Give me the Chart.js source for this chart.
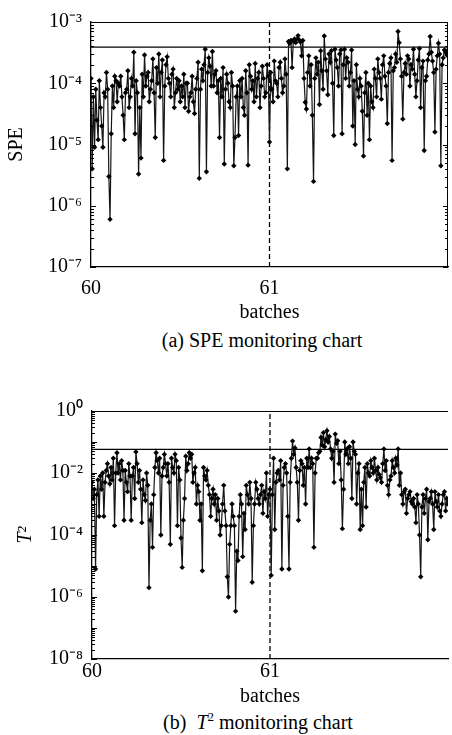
<!DOCTYPE html>
<html>
<head>
<meta charset="utf-8">
<script src="https://cdn.jsdelivr.net/npm/chart.js@4.4.0/dist/chart.umd.min.js"></script>
<style>
  html, body { margin: 0; padding: 0; background: #fff; overflow: hidden; }
  #page { position: relative; width: 452px; height: 735px; font-family: "Liberation Serif", "Times New Roman", serif; color: #000; }
  canvas { position: absolute; left: 0; }
  .caption { position: absolute; font-size: 20px; line-height: 24px; text-align: center; white-space: nowrap; }
  .caption sup { font-size: 13px; line-height: 0; vertical-align: 8px; }
</style>
</head>
<body>
<div id="page">
  <canvas id="spe" width="452" height="325" style="top:0"></canvas>
  <div class="caption" style="top:328px; left:62px; width:400px">(a) SPE monitoring chart</div>
  <canvas id="t2" width="452" height="329" style="top:380px"></canvas>
  <div class="caption" style="top:710px; left:58px; width:400px">(b)&nbsp; <i>T</i><sup>2</sup> monitoring chart</div>
</div>
<script>
// samples are spread evenly over each batch
const SAMPLES_PER_BATCH = 150;
const FIRST_BATCH = 60;
const LAST_BATCH = 62;
const BATCH_TICKS = [60, 61];
const FAULT_BATCH = 61;

const SPE_TICKS = [1e-7, 1e-6, 1e-5, 1e-4, 1e-3];
const T2_TICKS = [1e-8, 1e-6, 1e-4, 1e-2, 1];
const SPE_LIMIT = 3.9e-4;
const T2_LIMIT = 0.058;

const speValues = [
  1.2e-4, 4e-6, 6e-5, 9e-6, 8e-5, 2.5e-5, 1.2e-5, 1.1e-4, 4e-5, 2e-5, 9e-6, 7e-5, 6e-5, 1.5e-4, 8e-5,
  3e-6, 6e-7, 1.5e-5, 9e-5, 4e-5, 1.3e-4, 1.1e-4, 5e-5, 1e-4, 9e-5, 1.3e-4, 6e-5, 3e-5, 1.2e-5, 7e-5,
  8e-5, 1.6e-4, 4e-5, 6e-5, 1.2e-4, 9e-5, 3.2e-4, 1.5e-5, 1.1e-4, 7e-5, 3.3e-6, 4e-5, 6e-6, 1.4e-4, 6e-5,
  2.9e-4, 9e-5, 1.3e-4, 1.5e-4, 5e-5, 8e-5, 1.1e-4, 2.5e-4, 7e-5, 1.3e-5, 1.8e-4, 1e-4, 3e-4, 6e-5, 1.5e-4,
  2.4e-4, 5.5e-6, 9e-5, 2e-4, 2.7e-4, 1.2e-4, 1e-4, 6e-5, 1.4e-4, 1.7e-4, 4e-5, 7e-5, 1.2e-4, 8e-5, 1.1e-4,
  5e-5, 9e-5, 6e-5, 1.4e-4, 4e-5, 1e-4, 1e-4, 3.5e-5, 6e-5, 7e-5, 1.3e-4, 5e-5, 3.2e-5, 8e-5, 1.2e-4,
  2.2e-4, 2.8e-6, 8e-5, 1.7e-4, 1.1e-4, 2e-4, 3.6e-4, 3.6e-6, 1.5e-4, 2.6e-4, 1.9e-4, 9e-5, 3.3e-4, 9e-5, 1.4e-4,
  1.6e-4, 7e-5, 1.1e-4, 1.3e-5, 1.2e-4, 6e-5, 1.8e-4, 4.8e-6, 8e-5, 1.4e-4, 1e-4, 5e-5, 4e-5, 1.5e-4, 9e-5,
  4.5e-6, 1.3e-5, 6e-5, 9e-5, 1.4e-5, 1.1e-4, 6e-5, 1.2e-4, 4e-5, 3e-5, 1.6e-4, 7e-5, 4.6e-6, 2e-4, 1.3e-4,
  8e-5, 1.1e-4, 5e-5, 2.1e-4, 6e-5, 1.2e-4, 1.5e-4, 4e-5, 9e-5, 1.9e-4, 1.2e-4, 6e-5, 7e-5, 2e-4, 1.3e-4,
  1.1e-5, 1.5e-4, 8e-5, 5e-5, 2.3e-4, 1.1e-4, 1e-4, 6e-5, 1.8e-4, 2.2e-4, 1.2e-4, 7e-5, 9e-5, 2.5e-4, 1.4e-4,
  4e-6, 4.8e-4, 4.5e-4, 5e-4, 1.8e-4, 4.9e-4, 5.3e-4, 4.6e-4, 5.2e-4, 6e-4, 5.1e-4, 4.7e-4, 2.8e-4, 5e-4, 1.2e-4,
  4.9e-5, 3.8e-5, 1.5e-4, 2.8e-4, 9e-5, 2e-4, 3e-5, 2.5e-6, 1.2e-4, 2.6e-4, 1.4e-4, 2.2e-4, 4.5e-5, 3.4e-4, 1.6e-4,
  8e-5, 5.9e-4, 2.5e-4, 1.6e-4, 6.5e-5, 3e-4, 2.2e-4, 3.4e-4, 1e-4, 1.4e-5, 3.6e-4, 2.4e-4, 1.8e-4, 9e-5, 3e-4,
  3.5e-4, 1.5e-5, 2e-4, 3.6e-4, 1.2e-4, 2.6e-4, 2.2e-4, 9e-5, 1.5e-4, 3.5e-4, 2e-5, 1.1e-4, 1e-5, 2e-4, 8e-5,
  6e-5, 1.2e-4, 9e-5, 3.5e-5, 6.5e-6, 7e-5, 1.5e-4, 3e-5, 1e-4, 1.2e-5, 9e-5, 5e-5, 4e-5, 1.7e-4, 1.2e-4,
  6e-5, 2.5e-4, 1.5e-4, 1.2e-4, 5.5e-5, 2e-4, 2.8e-4, 1.3e-4, 9e-5, 2.2e-5, 1.5e-4, 2.1e-4, 2.6e-4, 5.5e-6, 1.6e-4,
  1.8e-4, 3e-4, 2.2e-4, 7e-4, 4.6e-4, 2.5e-4, 1.3e-4, 2.6e-5, 1.5e-4, 2.1e-4, 1.4e-4, 2.8e-4, 2.5e-4, 9e-5, 2e-4,
  1.7e-4, 3.6e-4, 1.4e-4, 6e-5, 1.1e-4, 2.4e-4, 3.7e-4, 4e-5, 1.8e-4, 2.3e-4, 8e-6, 1.1e-4, 1.3e-4, 2.4e-4, 3e-4,
  5.8e-4, 3.2e-4, 2.3e-4, 1.5e-4, 1.6e-5, 1.7e-4, 2.8e-4, 4.5e-4, 3e-4, 4.5e-6, 2e-4, 2.6e-4, 3.5e-4, 3.2e-4, 2.9e-4,
  3.5e-4
];

const t2Values = [
  5e-3, 1.5e-3, 3e-3, 8e-6, 2e-3, 6e-3, 4e-4, 8e-3, 3e-3, 1e-2, 4e-4, 5e-3, 1.2e-2, 2e-2, 8e-3,
  4.5e-3, 1.5e-2, 6e-3, 3e-2, 2e-4, 1e-2, 4.5e-2, 1e-2, 2e-2, 6e-3, 2.5e-2, 1.2e-2, 3e-4, 1.2e-2, 5e-3,
  2.5e-3, 2e-2, 8e-3, 3e-4, 8e-3, 1.5e-2, 1.5e-3, 4.8e-2, 2e-2, 5e-3, 1.2e-2, 3e-3, 2.5e-4, 6e-3, 2e-3,
  1.3e-3, 1e-2, 4e-3, 2e-6, 3e-4, 1e-3, 4e-5, 2e-3, 1.5e-2, 4.5e-2, 2.5e-2, 1e-2, 3e-2, 1e-4, 8e-3,
  1.5e-2, 4e-2, 2e-2, 8e-3, 2e-2, 5e-3, 5e-5, 3e-2, 1.5e-2, 1e-2, 4e-2, 2.5e-2, 2e-4, 1.5e-2, 6e-3,
  8e-5, 9e-6, 3e-4, 1.5e-3, 3.5e-2, 1.2e-2, 2e-2, 4.5e-2, 3e-2, 4e-2, 5e-3, 1e-2, 1.5e-2, 1e-3, 4e-3,
  2.5e-3, 3e-4, 1e-3, 7e-6, 1.5e-2, 8e-3, 6e-3, 1.2e-2, 4e-3, 2e-3, 4e-4, 1.5e-3, 3e-3, 1e-3, 2e-3,
  3e-4, 1.5e-3, 6e-4, 1e-4, 2e-4, 1e-3, 4e-3, 6e-4, 2e-4, 4.5e-6, 1e-6, 5e-5, 2e-4, 1e-3, 4e-4,
  2e-4, 3.5e-7, 3e-5, 1.5e-5, 4e-4, 2e-3, 1e-3, 2e-5, 5e-4, 1.5e-4, 4e-3, 2e-3, 1e-3, 5e-3, 1.5e-3,
  3e-6, 2e-4, 1e-3, 5e-3, 3e-3, 1.5e-3, 1e-3, 2e-3, 4e-3, 5e-4, 2.5e-3, 1.5e-3, 1e-2, 4e-4, 2e-3,
  3e-3, 5e-6, 2e-3, 3e-2, 1.5e-4, 5e-3, 1e-2, 1.2e-2, 6e-3, 2.5e-2, 8e-6, 4e-3, 1.5e-2, 2e-2, 1e-2,
  4e-4, 8e-6, 5e-3, 3e-2, 0.107, 0.04, 0.064, 1.5e-2, 5e-3, 3e-4, 1.2e-2, 2.5e-2, 2e-2, 4e-3, 1.5e-2,
  1e-3, 3e-2, 1.5e-2, 0.06, 1.5e-2, 3e-2, 2e-2, 4e-5, 1e-2, 3e-2, 3e-2, 4.5e-2, 5e-2, 0.14, 0.08,
  0.2, 0.07, 0.12, 0.23, 0.1, 0.15, 0.06, 3e-2, 0.05, 5e-3, 0.18, 0.09, 0.11, 2e-2, 0.05,
  6e-3, 1.6e-4, 3e-3, 0.1, 4e-2, 0.06, 2e-2, 0.07, 3e-2, 1.5e-3, 0.1, 0.05, 4e-2, 1e-3, 1e-2,
  2e-2, 1.5e-4, 3e-3, 2e-4, 5e-3, 1.5e-2, 8e-4, 2e-2, 1e-2, 8e-3, 2.5e-2, 1.5e-2, 1e-2, 3e-2, 1.2e-2,
  6e-3, 1.5e-2, 9e-3, 7e-3, 5e-3, 2e-2, 0.06, 1.2e-2, 2.5e-2, 4e-3, 2e-3, 6e-3, 8e-3, 2.5e-2, 1.5e-2,
  1e-2, 3e-2, 1.8e-2, 0.06, 4e-3, 1e-2, 2e-3, 1e-3, 2.5e-3, 3e-3, 5e-4, 1.5e-3, 2e-3, 2.5e-3, 1.2e-3,
  1e-3, 1.5e-3, 8e-4, 2.5e-4, 2e-3, 1e-3, 1e-4, 4.5e-6, 8e-4, 2e-3, 5e-4, 1.5e-3, 3e-3, 7e-5, 1.2e-3,
  1.5e-3, 2.5e-3, 1e-3, 1.5e-4, 2.5e-3, 1.2e-3, 8e-4, 2e-3, 6e-4, 4e-4, 1e-3, 2e-3, 2.5e-3, 6e-4, 1.5e-3,
  1e-3
];

const FONT = "'Liberation Serif', 'Times New Roman', serif";
const SUP = { "-": "\u207B", "0": "\u2070", "1": "\u00B9", "2": "\u00B2", "3": "\u00B3",
  "4": "\u2074", "5": "\u2075", "6": "\u2076", "7": "\u2077", "8": "\u2078", "9": "\u2079" };

function powerLabel(v) {
  const e = Math.round(Math.log10(v));
  return "10" + String(e).split("").map(c => SUP[c]).join("");
}

// top border, optional right border and inward log ticks
const framePlugin = {
  id: "frame",
  afterDatasetsDraw(chart, args, opts) {
    const { ctx, chartArea: a } = chart;
    const y = chart.scales.y;
    ctx.save();
    ctx.strokeStyle = "#000";
    ctx.lineWidth = 1;
    ctx.beginPath();
    ctx.moveTo(a.left, a.top + 0.5);
    ctx.lineTo(a.right, a.top + 0.5);
    if (opts.right) {
      ctx.moveTo(a.right - 0.5, a.top);
      ctx.lineTo(a.right - 0.5, a.bottom);
    }
    const lo = Math.round(Math.log10(y.min));
    const hi = Math.round(Math.log10(y.max));
    for (let e = lo; e < hi; e++) {
      for (let m = 1; m < 10; m++) {
        const py = Math.round(y.getPixelForValue(m * Math.pow(10, e))) + 0.5;
        const len = m === 1 ? 5 : 3;
        ctx.moveTo(a.left, py);
        ctx.lineTo(a.left + len, py);
        if (opts.right) {
          ctx.moveTo(a.right, py);
          ctx.lineTo(a.right - len, py);
        }
      }
    }
    ctx.stroke();
    ctx.restore();
  }
};

function makeChart(id, values, yTicks, limit, yTitle, cfg) {
  const points = values.map((v, i) => ({ x: FIRST_BATCH + i / SAMPLES_PER_BATCH, y: v }));
  const yMin = yTicks[0];
  const yMax = yTicks[yTicks.length - 1];

  return new Chart(document.getElementById(id).getContext("2d"), {
    type: "line",
    data: {
      datasets: [
        {
          data: points,
          borderColor: "#151515",
          borderWidth: 1.2,
          pointStyle: "rectRot",
          pointRadius: 2.7,
          pointBackgroundColor: "#000",
          pointBorderWidth: 0,
          tension: 0,
        },
        {
          data: [{ x: FIRST_BATCH, y: limit }, { x: LAST_BATCH, y: limit }],
          borderColor: "#000",
          borderWidth: 1.3,
          pointRadius: 0,
        },
        {
          data: [{ x: FAULT_BATCH, y: yMin }, { x: FAULT_BATCH, y: yMax }],
          borderColor: "#000",
          borderWidth: 1.3,
          borderDash: [5, 3],
          pointRadius: 0,
        },
      ],
    },
    options: {
      responsive: false,
      animation: false,
      events: [],
      layout: { padding: { top: cfg.top, right: cfg.right, left: 0, bottom: 0 } },
      plugins: { legend: { display: false }, tooltip: { enabled: false }, frame: { right: cfg.right > 0 } },
      scales: {
        x: {
          type: "linear",
          min: FIRST_BATCH,
          max: LAST_BATCH,
          afterBuildTicks: (s) => { s.ticks = BATCH_TICKS.map(v => ({ value: v })); },
          afterFit: (s) => { s.height = cfg.xHeight; },
          grid: { display: false, drawTicks: false },
          border: { display: true, color: "#000", width: 1.3 },
          ticks: {
            padding: cfg.xPad,
            color: "#000",
            maxRotation: 0,
            font: { family: FONT, size: 20, lineHeight: 1 },
            callback: (v) => String(v),
          },
          title: {
            display: true,
            text: "batches",
            color: "#000",
            padding: 0,
            font: { family: FONT, size: 20, lineHeight: 1.2 },
          },
        },
        y: {
          type: "logarithmic",
          min: yMin,
          max: yMax,
          afterBuildTicks: (s) => { s.ticks = yTicks.map(v => ({ value: v })); },
          afterFit: (s) => { s.width = cfg.yWidth; },
          grid: { display: false, drawTicks: false },
          border: { display: true, color: "#000", width: 1.3 },
          ticks: {
            padding: 9,
            color: "#000",
            font: { family: FONT, size: 20, lineHeight: 1 },
            callback: (v) => powerLabel(v),
          },
          title: {
            display: true,
            text: yTitle,
            color: "#000",
            padding: { top: cfg.titlePad, bottom: 0 },
            font: { family: FONT, size: 20, lineHeight: 1.2, style: cfg.titleStyle },
          },
        },
      },
    },
    plugins: [framePlugin],
  });
}

makeChart("spe", speValues, SPE_TICKS, SPE_LIMIT, "SPE",
  { top: 22, right: 1, xHeight: 58, xPad: 12, yWidth: 91, titlePad: 5, titleStyle: "normal" });
makeChart("t2", t2Values, T2_TICKS, T2_LIMIT, "T\u00B2",
  { top: 31, right: 0, xHeight: 50, xPad: 3, yWidth: 92, titlePad: 14, titleStyle: "italic" });
</script>
</body>
</html>
